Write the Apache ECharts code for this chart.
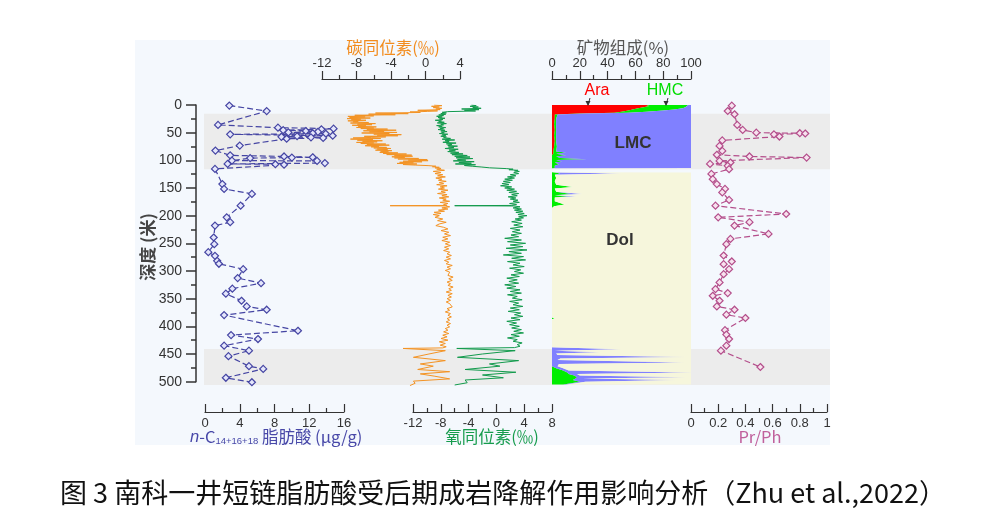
<!DOCTYPE html>
<html><head><meta charset="utf-8">
<script src="https://cdn.jsdelivr.net/npm/echarts@6/dist/echarts.min.js"></script>
<style>html,body{margin:0;padding:0;background:#fff}#c{width:990px;height:530px}</style>
</head><body><div id="c"></div><script>
// ---------- data ----------
const bandTop = [16, 441];
const bandBottom = [116, 506];

// n-C14+16+18 fatty acids [depth, ug/g]
const ncProfile = [[1,2.8],[11,7.1],[36,1.5],[41,8.4],[42.7,14.8],[44,13.4],[45.5,9.0],[47,11.6],[48.5,13.0],[49.5,9.6],[51,12.4],[52,13.9],[53,2.9],[55.5,14.7],[56.5,10.6],[57.5,8.8],[58.5,12.2],[59.5,13.6],[61,9.4],[73.4,4.0],[82.4,1.2],[91,2.9],[93,9.1],[94.5,12.4],[95,10.0],[96,5.2],[100.5,3.1],[101,12.9],[105,13.8],[106.5,2.6],[107,8.1],[108,9.1],[115.5,1.15],[143,2.0],[151.7,2.2],[160.7,5.4],[182,4.1],[203,2.5],[211.8,2.9],[218,1.15],[239.5,1.0],[251.5,1.07],[266,0.38],[272.6,1.15],[281.6,1.4],[287,1.6],[296.7,4.4],[312.8,3.76],[322,6.45],[332,3.15],[341,2.4],[353.8,4.2],[364,4.8],[370,7.1],[379.7,2.2],[408,10.7],[415.8,3.0],[423,6.1],[435,2.2],[444,5.06],[454,2.7],[472,5.06],[477,6.7],[493,2.4],[501,5.4]];

// carbon isotope [depth, permil]
const carbonProfile = [[0,1.0],[1.2,1.9],[2.4,0.7],[3.6,1.6],[4.8,0.9],[6,1.9],[7.2,1.2],[8.4,1.7],[9.6,-0.9],[10.6,1.4],[11.6,0.2],[12.6,-1.8],[13.6,-0.6],[14.6,-5.8],[15.6,-2.0],[16.6,-6.6],[17.6,-3.5],[18.6,-8.2],[19.6,-6.0],[20.6,-9.0],[21.6,-7.0],[22.6,-8.8],[23.6,-6.4],[24.6,-9.1],[25.6,-7.5],[26.6,-8.6],[27.6,-6.9],[28.6,-9.0],[29.6,-7.8],[30.6,-8.4],[31.6,-6.6],[32.6,-8.7],[33.6,-5.8],[34.6,-7.9],[35.6,-6.2],[36.6,-8.5],[37.6,-6.9],[38.6,-7.8],[39.6,-5.7],[40.6,-8.0],[41.6,-6.0],[42.6,-7.5],[43.6,-4.4],[44.6,-6.8],[45.6,-3.4],[46.6,-7.2],[47.6,-4.8],[48.6,-6.5],[49.6,-3.3],[50.6,-7.4],[51.6,-4.2],[52.6,-6.0],[53.6,-2.8],[54.6,-5.6],[55.6,-3.2],[56.6,-7.1],[57.6,-4.6],[58.6,-6.3],[59.6,-8.4],[60.6,-5.2],[61.6,-8.7],[62.6,-6.1],[63.6,-7.9],[64.6,-5.0],[65.6,-7.3],[66.6,-5.6],[67.6,-8.0],[68.6,-6.0],[69.6,-7.5],[70.6,-4.6],[71.6,-6.8],[72.6,-4.2],[73.6,-7.0],[74.6,-5.4],[75.6,-6.3],[76.6,-4.5],[77.6,-6.0],[78.6,-4.0],[79.6,-5.6],[80.6,-4.4],[81.6,-5.8],[82.6,-3.9],[83.6,-5.2],[84.6,-4.3],[85.6,-5.3],[86.6,-3.2],[87.6,-4.9],[88.6,-2.2],[89.6,-4.5],[90.6,-1.6],[91.6,-3.6],[92.6,-1.5],[93.6,-3.9],[94.6,-2.4],[95.6,-3.6],[96.6,-0.8],[97.6,-3.2],[98.6,0.2],[99.6,-2.0],[100.6,0.3],[101.6,-2.6],[102.6,-0.4],[103.6,-3.0],[104.6,-1.4],[105.6,-3.3],[106.6,-1.0],[107.6,-2.6],[108.6,-1.2],[109.6,0.4],[110.6,1.2],[111.6,0.8],[112.6,1.6],[113.6,1.1],[114.6,1.8],
[116,1.3],[118,2.2],[120,0.9],[122,1.8],[124,1.1],[126,2.0],[128,1.4],[130,2.3],[132,1.2],[134,1.9],[136,1.5],[138,2.4],[140,1.6],[142,2.1],[144,1.3],[146,2.5],[148,1.7],[150,2.2],[152,1.5],[154,2.6],[156,1.8],[158,2.3],[160,1.4],[162,2.5],[164,1.9],[166,2.7],[168,1.6],[170,2.4],[172,2.0],[174,2.8],[176,1.7],[178,2.6],[180,2.1],[181.5,2.5],[182,-4.1],[182.5,2.3],[184,2.8],[186,1.9],[188,2.6],[190,1.5],[192,2.2],[194,1.0],[196,1.8],[198,0.9],[200,1.6],[203,1.1],[206,2.0],[209,1.4],[212,2.4],[215,1.6],[218,1.2],[221,2.1],[224,2.6],[227,1.8],[230,2.7],[233,2.2],[236,2.9],[239,2.0],[242,2.6],[245,1.9],[248,2.8],[251,2.3],[254,2.9],[257,2.2],[260,2.7],[263,2.1],[266,2.8],[269,2.5],[272,3.0],[275,2.4],[278,2.9],[281,2.2],[284,2.7],[287,2.4],[290,3.1],[293,2.5],[296,2.9],[299,2.3],[302,2.8],[305,3.0],[308,2.6],[311,3.2],[314,2.7],[317,3.1],[320,2.5],[323,2.9],[326,2.6],[329,3.2],[332,2.7],[335,3.0],[338,2.4],[341,3.1],[344,2.6],[347,3.0],[350,2.5],[353,2.9],[356,2.4],[359,2.8],[362,2.6],[365,3.1],[368,2.5],[371,2.8],[374,2.3],[377,2.9],[380,2.6],[383,3.0],[386,2.5],[389,2.8],[392,2.4],[395,2.9],[398,2.5],[401,2.8],[404,2.3],[407,2.6],[410,2.1],[413,2.7],[416,2.0],[419,2.5],[422,1.8],[425,2.6],[428,1.6],[431,2.3],[434,1.7],[437,2.4],[439,2.0],
[440,-2.6],[444,2.3],[450,0.4],[456,-1.4],[462,2.3],[468,-0.6],[472,0.9],[478,-0.9],[482,2.8],[486,-0.6],[490,1.0],[495,2.8],[499,-1.4],[503,-1.2],[507,-1.8]];

// oxygen isotope [depth, permil]
const oxygenProfile = [[0,-3.6],[1.2,-2.9],[2.4,-3.8],[3.6,-2.6],[4.8,-3.4],[6,-2.2],[7.2,-5.0],[8.4,-2.5],[9.6,-4.6],[10.8,-3.0],[12,-7.0],[13.2,-7.8],[14.4,-7.2],
[15.6,-8.0],[16.8,-7.3],[18,-8.3],[19.2,-7.6],[20.4,-8.6],[21.6,-7.8],[22.8,-8.4],[24,-7.4],[25.2,-8.2],[26.4,-7.7],[27.6,-8.8],[28.8,-7.9],[30,-8.3],[31.2,-7.5],[32.4,-8.5],[33.6,-7.2],[34.8,-8.0],[36,-7.6],[37.2,-8.6],[38.4,-7.8],[39.6,-8.3],[40.8,-7.3],[42,-8.1],[43.2,-7.6],[44.4,-8.4],[45.6,-7.4],[46.8,-8.0],[48,-7.1],[49.2,-7.9],[50.4,-7.5],[51.6,-8.2],[52.8,-7.0],[54,-7.8],[55.2,-7.3],[56.4,-8.0],[57.6,-7.2],
[59,-7.6],[60.4,-6.6],[61.8,-7.8],[63.2,-6.0],[64.6,-7.4],[66,-6.8],[67.4,-7.7],[68.8,-5.8],[70.2,-7.2],[71.6,-6.4],[73,-7.0],[74.4,-5.6],[75.8,-6.9],[77.2,-6.1],[78.6,-7.4],[80,-5.5],[81.4,-6.8],[82.8,-5.9],[84.2,-7.0],[85.6,-5.4],[87,-6.6],
[88.4,-4.8],[89.8,-6.4],[91.2,-4.2],[92.6,-6.0],[94,-3.8],[95.4,-5.8],[96.8,-3.4],[98.2,-5.6],[99.6,-4.4],[101,-6.2],[102.4,-3.2],[103.8,-5.4],[105.2,-3.6],[106.6,-5.9],[108,-3.0],[109.4,-4.6],[110.8,-3.4],[112,-2.2],
[113.5,-1.0],[115,1.5],[116,2.4],[117,1.8],[118,3.1],[119,2.6],[120,3.3],[122,2.5],[124,3.2],[126,2.0],[128,2.8],[130,1.6],[132,2.6],[134,1.2],[136,2.3],
[138,1.0],[140,2.0],[142,0.8],[144,1.8],[146,0.6],[148,2.2],[150,1.2],[152,2.6],[154,1.5],[156,2.9],[158,1.8],[160,3.2],[162,2.2],[164,3.0],[166,1.7],[168,2.8],[170,2.0],[172,3.1],[174,2.4],[176,3.3],[178,1.9],[180,2.9],[181.5,2.2],[182,-6.0],[182.5,2.5],[184,3.4],[186,2.4],[188,3.6],[190,2.6],[192,3.8],[194,2.8],[196,4.0],[198,3.1],[200,4.4],[202,3.2],[204,3.9],[206,2.7],[208,3.6],
[211,2.2],[214,3.7],[217,2.5],[220,3.8],[223,2.0],[226,3.4],[229,2.3],[232,3.6],[235,2.1],[238,3.2],
[241,1.2],[244,3.6],[247,1.6],[250,4.2],[253,2.0],[256,3.8],[259,1.4],[262,4.4],[265,1.8],[268,3.6],[271,1.0],[274,3.9],[277,2.2],[280,4.2],[283,1.6],[286,3.4],[289,2.4],[292,4.0],[295,1.9],[298,3.5],[301,2.6],[304,3.9],[307,2.1],[310,3.3],[313,1.5],[316,3.0],
[319,1.8],[322,3.2],[325,1.2],[328,2.8],[331,1.5],[334,3.4],[337,2.0],[340,3.6],[343,1.6],[346,3.0],[349,2.3],[352,3.7],[355,1.9],[358,3.2],[361,2.4],[364,3.8],[367,2.0],[370,3.3],[373,1.7],[376,3.5],[379,2.6],[382,3.8],[385,2.1],[388,3.4],[391,1.5],[394,2.9],[397,1.9],[400,3.3],[403,2.2],[406,3.6],[409,2.5],[412,3.9],[415,2.1],[418,3.3],[421,1.6],[424,3.0],[427,2.4],[430,3.7],[433,3.0],[436,3.4],[438.5,2.6],
[440,-5.7],[444,2.7],[450,-2.0],[456,-5.6],[462,3.2],[468,-1.0],[472,0.5],[478,-4.5],[483,2.8],[488,-2.0],[493,1.0],[497,-4.5],[502,-4.2],[506,-6.0]];

// mineral composition (%), aligned with mineralDepth
const mineralDepth = [0,2,4,6,8,10,12,14,15.5,17,25,35,45,55,65,75,84,86,88,91,93,96,98,99.5,102,104,107,110,114,114.3,121.7,122,124,126,132,138,144,148,151,157,161,163,165,167,174,180,183,186,384,385.5,387,438,441.5,444,447,449,452,455.5,458,461,465.5,468,472,476,480,483.5,486,489,492,494.5,497,500,503,505];
const mineralAra = [68,70,66,62,58,55,50,45,20,2,2,1.5,2,1.5,2,1.5,1,1,1,0,0,0,0,0,0,0,0,0,0,0,0,0,0,0,0,0,0,0,0,0,0,0,0,0,0,0,0,0,0,0,0,0,0,0,0,0,0,0,0,0,0,0,0,0,0,0,0,0,0,0,0,0,0,0];
const mineralHmc = [30,27,30,32,30,25,18,10,5,2,1,1.5,1,1.5,1,2,2,9,2,10,3,6,25,3,7,2,5,2,2,0,0,2,6,2,3,2,3,15,2,3,14,2,12,2,2,9,1.5,0,0,2,0,0,0,0,0,0,0,0,0,0,0,0,0,3,8,11,12,16,18,17,15,20,14,8];
const mineralLmc = [2,3,4,6,12,20,32,45,75,96,97,97,97,97,97,96.5,97,90,97,90,97,94,75,97,93,98,95,98,98,0,0,0,45,0,0,0,0,0,0,0,8,0,6,0,0,0,0,0,0,0,0,0,50,2,35,3,4,97,6,4,96,5,4,5,4,89,6,4,79,5,75,4,3,2];
const mineralDol = [0,0,0,0,0,0,0,0,0,0,0,0,0,0,0,0,0,0,0,0,0,0,0,0,0,0,0,0,0,0,0,98,49,98,97,98,97,85,98,97,78,98,82,98,98,91,98.5,100,100,98,100,100,50,98,65,97,96,3,94,96,4,95,96,92,88,0,82,80,3,78,10,76,83,90];

// Pr/Ph [depth, ratio]
const prphProfile = [[1.2,0.30],[10.8,0.27],[16.8,0.32],[36,0.34],[45,0.38],[50,0.48],[51,0.80],[51.5,0.84],[53,0.61],[57,0.65],[64,0.23],[74,0.21],[83,0.23],[90,0.19],[93,0.43],[95,0.85],[101,0.21],[104,0.29],[106.5,0.14],[110,0.27],[116,0.28],[124.5,0.15],[134,0.16],[143,0.19],[151.6,0.25],[158,0.23],[171.5,0.28],[182,0.18],[197,0.70],[203,0.20],[211.8,0.43],[218,0.32],[233,0.57],[242,0.29],[251.5,0.26],[272,0.24],[282.8,0.30],[287.6,0.24],[296.7,0.28],[305.7,0.24],[320.7,0.21],[332.7,0.18],[340,0.27],[344.8,0.16],[353.8,0.21],[364,0.19],[370,0.32],[379,0.26],[385,0.40],[407,0.25],[415,0.26],[423,0.28],[435,0.26],[444,0.22],[473.5,0.51]];

// ---------- chart ----------
const chart = echarts.init(document.getElementById('c'), null, {renderer: 'canvas'});
const FONT = '"Liberation Sans", Arial, "Noto Sans CJK SC", sans-serif';
const CJK = '"Noto Sans CJK SC", "Liberation Sans", sans-serif';
const TOP = 105, PXM = 0.5533, DMAX = 510, H = DMAX * PXM;
const AXC = '#333';

function hiddenY(){ return {type:'value', min:0, max:DMAX, inverse:true, show:false}; }
function hiddenX(min,max){ return {type:'value', min:min, max:max, show:false}; }
function shownX(gi, pos, min, max, interval, offset){
  return {type:'value', gridIndex:gi, position:pos, min:min, max:max, interval:interval, offset:offset,
    axisLine:{show:true, onZero:false, lineStyle:{color:AXC, width:1.2}},
    axisTick:{show:true, inside: pos==='bottom', length:8, lineStyle:{color:AXC, width:1.2}},
    minorTick:{show:true, splitNumber:2, length:4, lineStyle:{color:AXC, width:1.2}},
    splitLine:{show:false}, minorSplitLine:{show:false},
    axisLabel:{color:AXC, fontSize:13, fontFamily:FONT, margin: pos==='bottom' ? 5 : 9}};
}

const grids = [
  {left:196, top:TOP, width:1, height:500*PXM},           // 0 depth axis
  {left:204, top:TOP, width:626, height:H},               // 1 bands
  {left:205, top:TOP, width:139, height:H},               // 2 n-C
  {left:322, top:TOP, width:138, height:H},               // 3 carbon
  {left:413, top:TOP, width:139, height:H},               // 4 oxygen
  {left:552, top:TOP, width:139, height:H},               // 5 mineral
  {left:691, top:TOP, width:136, height:H}                // 6 Pr/Ph
];
const botOff = 412 - (TOP + H);
const topOff = TOP - 79;

const xAxes = [
  Object.assign(hiddenX(0,1), {gridIndex:0}),
  Object.assign(hiddenX(0,1), {gridIndex:1}),
  shownX(2,'bottom',0,16,4,botOff),
  shownX(3,'top',-12,4,4,topOff),
  shownX(4,'bottom',-12,8,4,botOff),
  shownX(5,'top',0,100,20,topOff),
  shownX(6,'bottom',0,1,0.2,botOff)
];
const yAxes = [
  {type:'value', gridIndex:0, min:0, max:500, interval:50, inverse:true,
   axisLine:{show:true, lineStyle:{color:AXC, width:1.5}},
   axisTick:{show:true, length:10, lineStyle:{color:AXC, width:1.5}},
   minorTick:{show:true, splitNumber:2, length:5, lineStyle:{color:AXC, width:1.5}},
   splitLine:{show:false}, axisLabel:{color:AXC, fontSize:14, fontFamily:FONT, margin:14}}
];
for (let i=1;i<7;i++) yAxes.push(Object.assign(hiddenY(), {gridIndex:i}));

function mineralSeries(k, color){
  const arrs = [mineralAra, mineralHmc, mineralLmc, mineralDol];
  return {
    type:'custom', xAxisIndex:5, yAxisIndex:5, silent:true, z:3,
    data: mineralDepth.map((d,i)=>[arrs[k][i], d]),
    encode:{x:0, y:1},
    renderItem: function(params, api){
      if (params.dataIndex !== 0) return null;
      const left = [], right = [];
      for (let i=0;i<mineralDepth.length;i++){
        let base = 0;
        for (let j=0;j<k;j++) base += arrs[j][i];
        left.push(api.coord([base, mineralDepth[i]]));
        right.push(api.coord([base + arrs[k][i], mineralDepth[i]]));
      }
      const pts = left.concat(right.reverse());
      return {type:'polygon', shape:{points:pts}, style:{fill:color, stroke:null}};
    }
  };
}

const series = [
  {type:'custom', xAxisIndex:1, yAxisIndex:1, silent:true, z:1,
   data: bandTop.map((t,i)=>[t, bandBottom[i]]), encode:{y:[0,1]},
   renderItem: function(params, api){
     const p1 = api.coord([0, api.value(0)]);
     const p2 = api.coord([1, api.value(1)]);
     return {type:'rect', shape:{x:p1[0], y:p1[1], width:p2[0]-p1[0], height:p2[1]-p1[1]}, style:{fill:'#ececec'}};
   }},
  {type:'line', xAxisIndex:2, yAxisIndex:2, z:5,
   data: ncProfile.map(p=>[p[1], p[0]]),
   symbol:'diamond', symbolSize:7, showSymbol:true,
   itemStyle:{color:'#e4e6fb', borderColor:'#4545a3', borderWidth:1.2},
   lineStyle:{color:'#4545a3', width:1.2, type:[6,3]}},
  {type:'line', xAxisIndex:3, yAxisIndex:3, z:4, showSymbol:false, symbol:'none',
   data: carbonProfile.map(p=>[p[1], p[0]]),
   lineStyle:{color:'#f39324', width:1}},
  {type:'line', xAxisIndex:4, yAxisIndex:4, z:4, showSymbol:false, symbol:'none',
   data: oxygenProfile.map(p=>[p[1], p[0]]),
   lineStyle:{color:'#129a4c', width:1}},
  mineralSeries(0, '#ff0000'),
  mineralSeries(1, '#00ee00'),
  mineralSeries(2, '#8080ff'),
  mineralSeries(3, '#f6f6dc'),
  {type:'line', xAxisIndex:6, yAxisIndex:6, z:5,
   data: prphProfile.map(p=>[p[1], p[0]]),
   symbol:'diamond', symbolSize:7, showSymbol:true,
   itemStyle:{color:'#f7e2ee', borderColor:'#b44e8b', borderWidth:1.2},
   lineStyle:{color:'#b44e8b', width:1.2, type:[6,3]}}
];

function txt(x, y, text, color, size, extra){
  return Object.assign({type:'text', x:x, y:y, z:100,
    style:{text:text, fill:color, fontSize:size, fontFamily:CJK, align:'center', verticalAlign:'middle'}}, extra||{});
}
function ltxt(x, y, text, color, size, bold){
  return {type:'text', x:x, y:y, z:100,
    style:{text:text, fill:color, fontSize:size, fontWeight: bold ? 'bold' : 'normal', fontFamily:FONT, align:'center', verticalAlign:'middle'}};
}
function arrow(x1,y1,x2,y2){
  return [
    {type:'line', z:100, shape:{x1:x1,y1:y1,x2:x2,y2:y2}, style:{stroke:'#333', lineWidth:1}},
    {type:'polygon', z:100, shape:{points:[[x2,y2+1],[x2-2.5,y2-4],[x2+2.5,y2-4]]}, style:{fill:'#333'}}
  ];
}

const graphic = [
  {type:'rect', z:-100, shape:{x:135, y:40, width:695, height:405}, style:{fill:'#f4f8fd'}},
  txt(393, 48, '碳同位素(‰)', '#f28c1e', 16.5),
  txt(623, 48, '矿物组成(%)', '#555', 16.5),
  ltxt(597, 91, 'Ara', '#ff0000', 16),
  ltxt(665, 91, 'HMC', '#00dd00', 16),
  ...arrow(590, 98, 588, 105),
  ...arrow(668, 98, 666, 105),
  ltxt(633, 143, 'LMC', '#333', 17, true),
  ltxt(620, 240, 'Dol', '#333', 17, true),
  {type:'text', x:190, y:437, z:100, style:{
    text:'{i|n}-C{s|14+16+18} 脂肪酸 (μg/g)', fill:'#4848a8', fontSize:16.5, fontFamily:CJK, align:'left', verticalAlign:'middle',
    rich:{i:{fontStyle:'italic', fontSize:16.5, fontFamily:FONT, fill:'#4848a8'}, s:{fontSize:9.5, fontFamily:FONT, fill:'#4848a8', padding:[9,0,0,0]}}}},
  txt(492, 437, '氧同位素(‰)', '#169c4c', 16.5),
  txt(760, 437, 'Pr/Ph', '#c0609c', 16.5),
  txt(148, 247, '深度 (米)', '#444', 17, {rotation: Math.PI/2, style:{text:'深度 (米)', fill:'#444', fontSize:17, fontWeight:'bold', fontFamily:CJK, align:'center', verticalAlign:'middle'}}),
  txt(503, 493, '图 3 南科一井短链脂肪酸受后期成岩降解作用影响分析（Zhu et al.,2022）', '#111', 27)
];

chart.setOption({
  animation:false,
  backgroundColor:'#ffffff',
  grid: grids,
  xAxis: xAxes,
  yAxis: yAxes,
  series: series,
  graphic: graphic
});
</script></body></html>
